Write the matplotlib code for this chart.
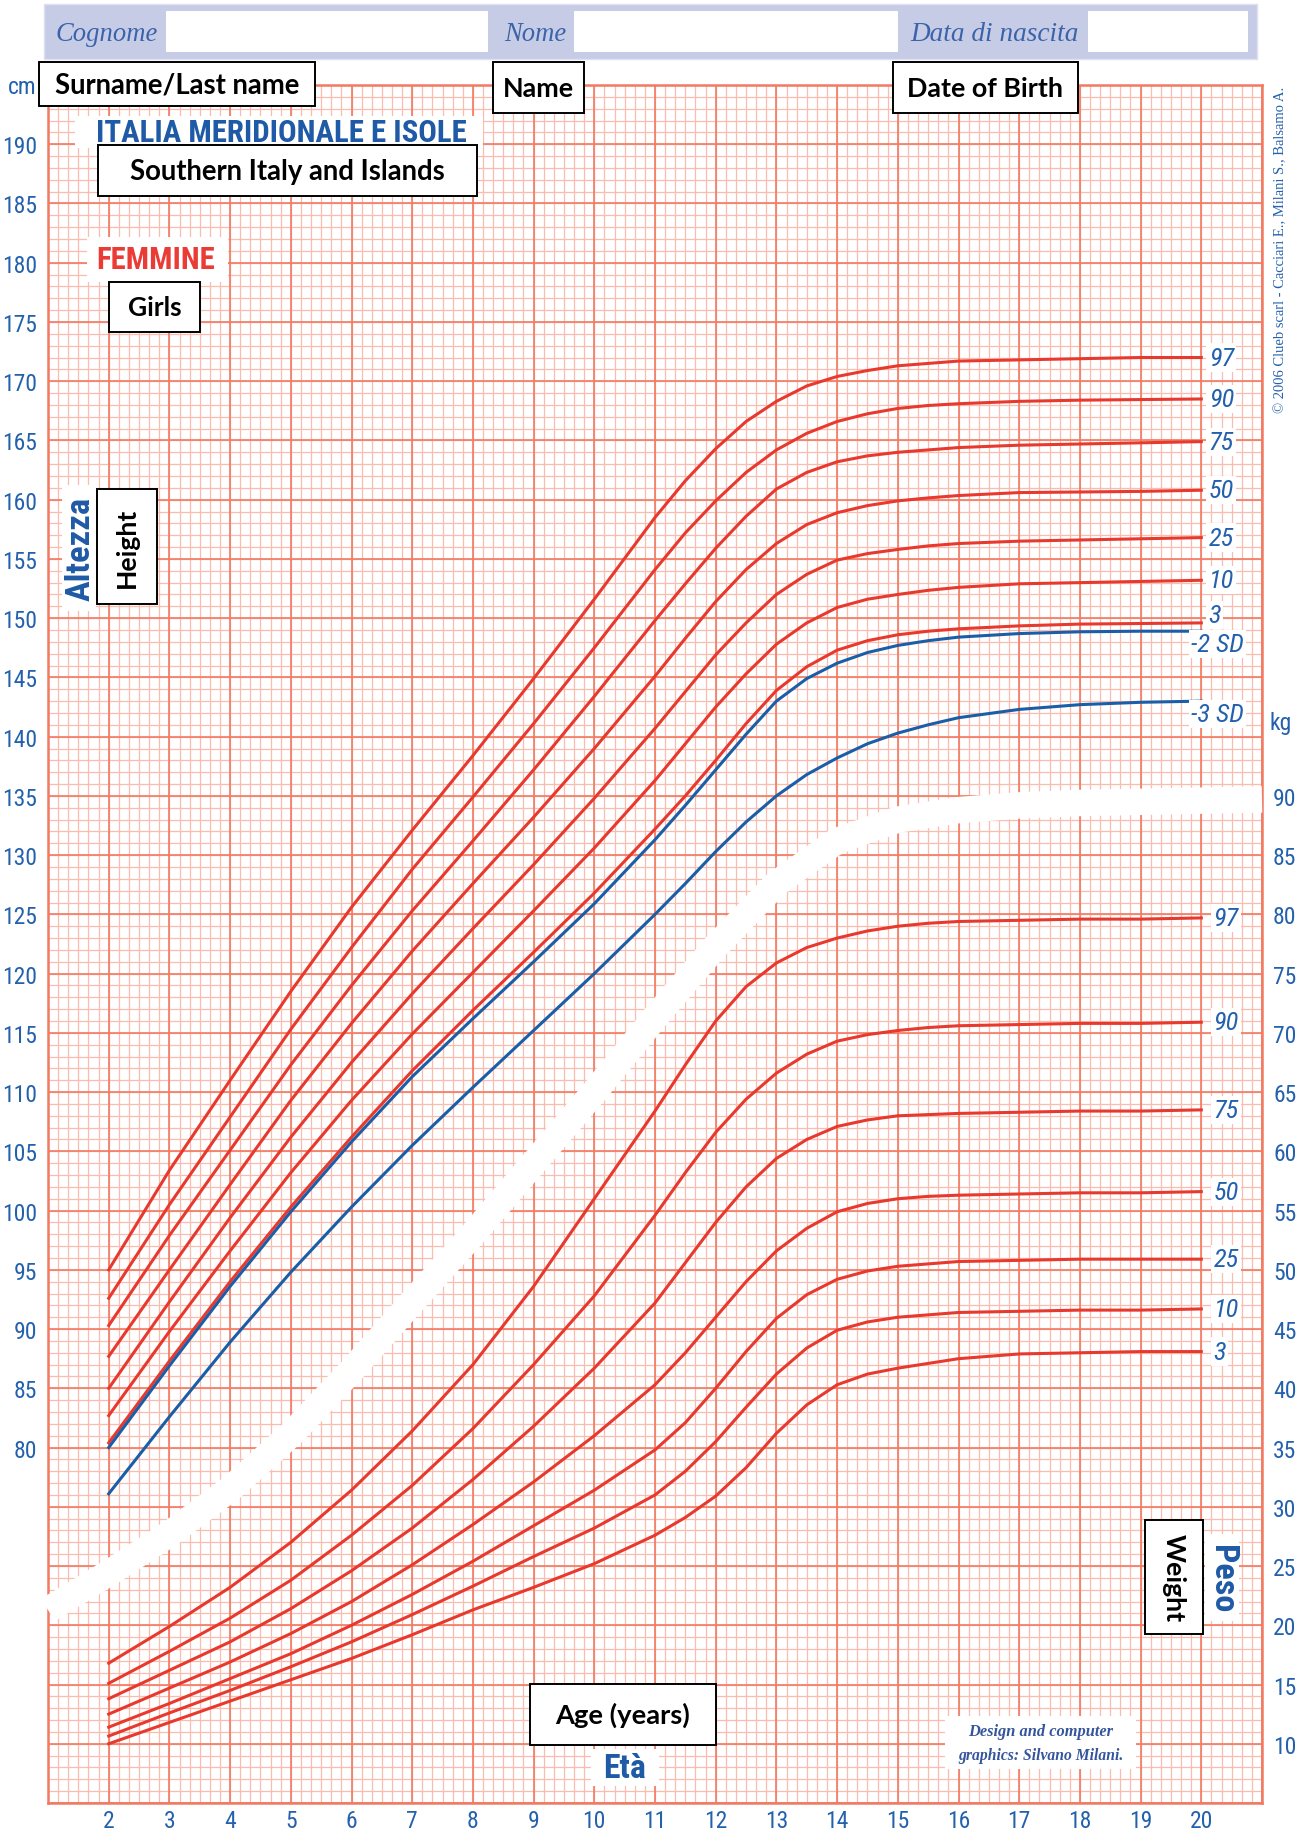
import numpy as np
import matplotlib
matplotlib.use("Agg")
import matplotlib.pyplot as plt
from matplotlib.patches import Rectangle

# ---------------- data ----------------
ages = [2, 3, 4, 5, 6, 7, 8, 9, 10, 11, 11.5, 12, 12.5, 13, 13.5, 14, 14.5, 15, 15.5, 16, 17, 18, 19, 20]

height_97 = [95.0, 103.4, 111.0, 118.5, 125.6, 132.1, 138.4, 144.9, 151.6, 158.5, 161.6, 164.3, 166.6, 168.3, 169.6, 170.4, 170.9, 171.3, 171.5, 171.7, 171.8, 171.9, 172.0, 172.0]
height_90 = [92.6, 100.5, 107.9, 115.3, 122.2, 128.8, 134.9, 141.1, 147.5, 154.1, 157.2, 159.9, 162.3, 164.2, 165.6, 166.6, 167.25, 167.7, 167.95, 168.1, 168.3, 168.4, 168.45, 168.5]
height_75 = [90.3, 97.9, 105.1, 112.3, 119.0, 125.3, 131.2, 137.2, 143.4, 149.8, 152.9, 155.9, 158.6, 160.9, 162.3, 163.2, 163.7, 164.0, 164.2, 164.4, 164.6, 164.7, 164.8, 164.9]
height_50 = [87.7, 95.0, 102.2, 109.3, 115.8, 121.9, 127.6, 133.2, 139.0, 145.1, 148.3, 151.4, 154.1, 156.3, 157.9, 158.9, 159.5, 159.9, 160.15, 160.35, 160.6, 160.65, 160.7, 160.8]
height_25 = [85.0, 92.3, 99.4, 106.2, 112.5, 118.3, 123.8, 129.2, 134.8, 140.7, 143.8, 146.9, 149.6, 152.0, 153.7, 154.9, 155.45, 155.8, 156.1, 156.3, 156.5, 156.6, 156.7, 156.8]
height_10 = [82.7, 89.8, 96.6, 103.2, 109.3, 114.9, 120.1, 125.3, 130.6, 136.3, 139.4, 142.5, 145.3, 147.8, 149.6, 150.9, 151.6, 152.0, 152.35, 152.6, 152.9, 153.0, 153.1, 153.2]
height_3 = [80.4, 87.3, 94.0, 100.3, 106.2, 111.8, 116.9, 121.8, 126.8, 132.2, 135.0, 138.0, 141.1, 143.9, 145.9, 147.3, 148.1, 148.6, 148.9, 149.1, 149.35, 149.5, 149.55, 149.6]
height_m2sd = [80.0, 86.9, 93.6, 99.9, 105.8, 111.3, 116.2, 121.0, 125.9, 131.3, 134.2, 137.2, 140.2, 143.0, 144.9, 146.2, 147.1, 147.7, 148.1, 148.4, 148.7, 148.85, 148.9, 148.9]
height_m3sd = [76.1, 82.6, 88.9, 94.8, 100.3, 105.5, 110.4, 115.2, 120.0, 125.0, 127.6, 130.3, 132.8, 135.0, 136.8, 138.2, 139.4, 140.3, 141.0, 141.6, 142.3, 142.7, 142.9, 143.0]

weight_97 = [16.8, 19.9, 23.2, 27.0, 31.4, 36.4, 42.0, 48.6, 56.0, 63.4, 67.3, 71.0, 73.9, 75.9, 77.2, 78.0, 78.6, 79.0, 79.25, 79.4, 79.5, 79.6, 79.6, 79.7]
weight_90 = [15.1, 17.8, 20.6, 23.8, 27.6, 31.8, 36.6, 42.0, 47.8, 54.6, 58.2, 61.6, 64.4, 66.6, 68.2, 69.3, 69.85, 70.2, 70.45, 70.6, 70.7, 70.8, 70.8, 70.9]
weight_75 = [13.8, 16.2, 18.6, 21.4, 24.6, 28.2, 32.3, 36.8, 41.7, 47.2, 50.6, 54.0, 57.0, 59.4, 61.0, 62.1, 62.65, 63.0, 63.1, 63.2, 63.3, 63.4, 63.4, 63.5]
weight_50 = [12.5, 14.7, 16.9, 19.3, 22.0, 25.1, 28.5, 32.1, 36.0, 40.3, 43.0, 46.0, 49.0, 51.6, 53.5, 54.9, 55.6, 56.0, 56.2, 56.3, 56.4, 56.5, 56.5, 56.6]
weight_25 = [11.4, 13.4, 15.5, 17.6, 20.0, 22.6, 25.4, 28.4, 31.4, 34.8, 37.1, 40.0, 43.1, 45.9, 47.9, 49.2, 49.9, 50.3, 50.5, 50.7, 50.8, 50.9, 50.9, 50.9]
weight_10 = [10.65, 12.6, 14.5, 16.5, 18.6, 20.9, 23.3, 25.8, 28.2, 31.0, 33.0, 35.5, 38.4, 41.2, 43.4, 44.9, 45.6, 46.0, 46.2, 46.4, 46.5, 46.6, 46.6, 46.7]
weight_3 = [10.0, 11.8, 13.6, 15.4, 17.2, 19.2, 21.3, 23.2, 25.2, 27.6, 29.1, 30.9, 33.3, 36.2, 38.6, 40.3, 41.2, 41.7, 42.1, 42.5, 42.9, 43.0, 43.1, 43.1]

height_pct_labels = ["97", "90", "75", "50", "25", "10", "3"]
height_sd_labels = ["-2 SD", "-3 SD"]
weight_pct_labels = ["97", "90", "75", "50", "25", "10", "3"]

# white separator band between the two charts (age, cm)
band_age = [1, 2, 3, 4, 5, 6, 7, 8, 9, 10, 11, 12, 13, 14, 15, 16, 17, 18, 19, 20, 21]
band_cm = [66.3, 69.4, 72.7, 76.5, 81.1, 86.5, 92.3, 98.0, 104.0, 110.0, 116.3, 122.3, 127.6,
           131.2, 133.0, 133.8, 134.2, 134.4, 134.5, 134.6, 134.7]

age_ticks = list(range(2, 21))
cm_ticks = list(range(80, 191, 5))
kg_ticks = list(range(10, 91, 5))
KG_OFFSET = 45  # kg scale = cm scale - 45

# ---------------- styling ----------------
RED = "#e8392e"
BLUE = "#1b5ea8"
TXT = "#2461ad"
GRID_MAJ = "#f27a63"
GRID_MIN = "#f9bcae"
NARROW = ["Liberation Sans Narrow", "Roboto Condensed", "DejaVu Sans"]
SERIF = ["Liberation Serif", "DejaVu Serif"]
BOLDF = ["Lato", "Open Sans", "DejaVu Sans"]

W, H = 1299, 1833
fig = plt.figure(figsize=(W / 100, H / 100), dpi=100)
fig.patch.set_facecolor("white")
renderer = fig.canvas.get_renderer()

L, R, T, B = 48, 1262, 86, 1804
ax = fig.add_axes([L / W, 1 - B / H, (R - L) / W, (B - T) / H])
ax.set_xlim(1, 21)
ax.set_ylim(50, 195)
ax.set_facecolor("white")

# graph-paper grid
ax.vlines(np.arange(1, 21.0001, 1 / 6), 50, 195, color=GRID_MIN, lw=0.9, zorder=1)
ax.hlines(np.arange(50, 195.001, 1), 1, 21, color=GRID_MIN, lw=0.9, zorder=1)
ax.vlines(np.arange(1, 22), 50, 195, color=GRID_MAJ, lw=1.2, zorder=1.2)
ax.hlines(np.arange(50, 196, 5), 1, 21, color=GRID_MAJ, lw=1.2, zorder=1.2)
for s in ax.spines.values():
    s.set_color(GRID_MAJ)
    s.set_linewidth(1.8)

# white separator band
ax.plot(band_age, band_cm, color="white", lw=19, solid_capstyle="butt",
        solid_joinstyle="round", zorder=3, clip_on=False)

# height curves
for vals in [height_97, height_90, height_75, height_50, height_25, height_10, height_3]:
    ax.plot(ages, vals, color=RED, lw=2.2, zorder=4, solid_joinstyle="round")
for vals in [height_m2sd, height_m3sd]:
    ax.plot(ages, vals, color=BLUE, lw=2.2, zorder=4.1, solid_joinstyle="round")
# weight curves on the shared scale (kg = cm - 45)
for vals in [weight_97, weight_90, weight_75, weight_50, weight_25, weight_10, weight_3]:
    ax.plot(ages, [v + KG_OFFSET for v in vals], color=RED, lw=2.2, zorder=4,
            solid_joinstyle="round")

lab_kw = dict(color=TXT, style="italic", fontsize=19, family=NARROW, fontstretch="condensed",
              zorder=6, bbox=dict(fc="white", ec="none", pad=1.5))
h_series = [height_97, height_90, height_75, height_50, height_25, height_10, height_3]
for lab, vals in zip(height_pct_labels, h_series):
    dy = 0.7 if lab == "3" else 0.0
    ax.text(20.12, vals[-1] + dy, lab, ha="left", va="center", **lab_kw)
for lab, vals in zip(height_sd_labels, [height_m2sd, height_m3sd]):
    ax.text(19.83, vals[-1] - 1.1, lab, ha="left", va="center", **lab_kw)
w_series = [weight_97, weight_90, weight_75, weight_50, weight_25, weight_10, weight_3]
for lab, vals in zip(weight_pct_labels, w_series):
    ax.text(20.2, vals[-1] + KG_OFFSET, lab, ha="left", va="center", **lab_kw)

# ticks
ax.set_xticks(age_ticks)
ax.set_xticklabels([str(a) for a in age_ticks])
ax.set_yticks(cm_ticks)
ax.set_yticklabels([str(v) for v in cm_ticks])
ax.tick_params(axis="both", length=0, colors=TXT, labelsize=17)
ax.tick_params(axis="x", pad=4)
ax.tick_params(axis="y", pad=8)
for t in ax.get_xticklabels() + ax.get_yticklabels():
    t.set_family(NARROW)
    t.set_fontstretch("condensed")

ax2 = ax.twinx()
ax2.set_ylim(50 - KG_OFFSET, 195 - KG_OFFSET)
ax2.set_yticks(kg_ticks)
ax2.set_yticklabels([str(v) for v in kg_ticks])
ax2.tick_params(axis="y", length=0, colors=TXT, labelsize=17, pad=8)
for t in ax2.get_yticklabels():
    t.set_family(NARROW)
    t.set_fontstretch("condensed")
for s in ax2.spines.values():
    s.set_visible(False)

# ---------------- overlay in pixel coordinates ----------------
ov = fig.add_axes([0, 0, 1, 1], zorder=10)
ov.set_xlim(0, W)
ov.set_ylim(H, 0)
ov.axis("off")


def fit_text(x, y, s, target, along="w", **kw):
    t = ov.text(x, y, s, fontsize=20, ha="center", va="center", **kw)
    bb = t.get_window_extent(renderer=renderer)
    size = bb.width if along == "w" else bb.height
    t.set_fontsize(20 * target / size)
    return t


def white_bg(x0, y0, x1, y1):
    ov.add_patch(Rectangle((x0, y0), x1 - x0, y1 - y0, fc="white", ec="none", zorder=1))


def eng_box(x0, y0, x1, y1, s, target, rot=0):
    ov.add_patch(Rectangle((x0, y0), x1 - x0, y1 - y0, fc="white", ec="black", lw=1.4, zorder=3))
    along = "w" if rot == 0 else "h"
    fit_text((x0 + x1) / 2, (y0 + y1) / 2, s, target, along=along, rotation=rot,
             family=BOLDF, weight="bold", color="black", zorder=4)


# header band
ov.add_patch(Rectangle((44, 5), 1213, 55, fc="#c7cce6", ec="#dde0f0", lw=1, zorder=1))
for x0, x1 in [(166, 488), (574, 898), (1088, 1248)]:
    ov.add_patch(Rectangle((x0, 12), x1 - x0, 41, fc="white", ec="none", zorder=2))
HEAD = "#3b63aa"
fit_text(107, 34, "Cognome", 102, family=SERIF, style="italic", color=HEAD, zorder=3)
fit_text(535, 34, "Nome", 62, family=SERIF, style="italic", color=HEAD, zorder=3)
fit_text(995, 34, "Data di nascita", 168, family=SERIF, style="italic", color=HEAD, zorder=3)

# axis unit labels
ov.text(37, 87, "cm", ha="right", va="center", fontsize=17, family=NARROW,
        fontstretch="condensed", color=TXT, zorder=2)
ov.text(1270, 723, "kg", ha="left", va="center", fontsize=17, family=NARROW,
        fontstretch="condensed", color=TXT, zorder=2)

# titles on the grid
COND = dict(family=["Roboto Condensed", "DejaVu Sans"], fontstretch="condensed", weight="bold")
white_bg(75, 117, 483, 149)
fit_text(281, 133, "ITALIA MERIDIONALE E ISOLE", 371, color="#1f5aa6", zorder=2, **COND)
white_bg(87, 238, 228, 283)
fit_text(156, 260, "FEMMINE", 119, color="#ea3b35", zorder=2, **COND)
white_bg(62, 486, 96, 612)
fit_text(81, 549, "Altezza", 104, along="h", rotation=90, color="#1f5aa6", zorder=2, **COND)
white_bg(591, 1750, 659, 1787)
fit_text(625, 1769, "Età", 43, color="#1f5aa6", zorder=2, **COND)
white_bg(1205, 1535, 1239, 1622)
fit_text(1222, 1579, "Peso", 68, along="h", rotation=-90, color="#1f5aa6", zorder=2, **COND)

# design credit
white_bg(945, 1717, 1136, 1770)
fit_text(1041, 1732, "Design and computer", 145, family=SERIF, style="italic",
         weight="bold", color="#34559c", zorder=2)
fit_text(1041, 1756, "graphics: Silvano Milani.", 165, family=SERIF, style="italic",
         weight="bold", color="#34559c", zorder=2)

# copyright
fit_text(1281, 250, "\u00a9 2006 Clueb scarl - Cacciari E., Milani S., Balsamo A.", 330,
         along="h", rotation=90, family=SERIF, color=TXT, zorder=2)

# English translation boxes
eng_box(39, 63, 315, 107, "Surname/Last name", 245)
eng_box(493, 63, 584, 114, "Name", 71)
eng_box(893, 63, 1078, 114, "Date of Birth", 156)
eng_box(98, 146, 477, 197, "Southern Italy and Islands", 316)
eng_box(109, 283, 200, 333, "Girls", 54)
eng_box(97, 490, 157, 605, "Height", 80, rot=90)
eng_box(1145, 1521, 1203, 1635, "Weight", 88, rot=-90)
eng_box(530, 1685, 716, 1746, "Age (years)", 135)

fig.savefig("out.png", dpi=100, facecolor="white")
